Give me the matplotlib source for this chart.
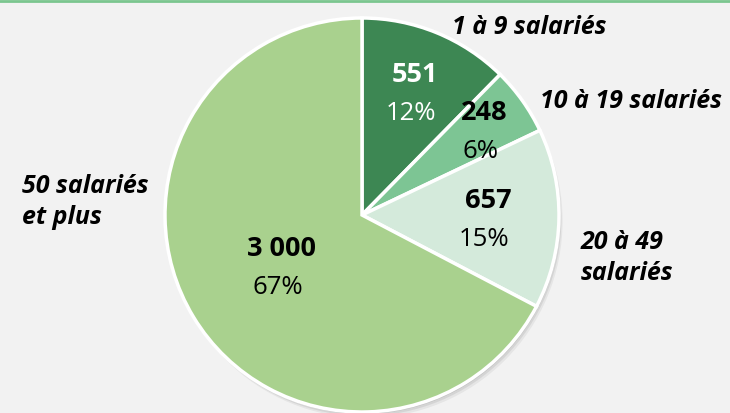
import numpy as np
import matplotlib.pyplot as plt
from matplotlib.patches import Circle

# Données
categories = ["1 à 9 salariés", "10 à 19 salariés", "20 à 49\nsalariés", "50 salariés\net plus"]
effectifs = [551, 248, 657, 3000]
valeurs_txt = ["551", "248", "657", "3 000"]
pourcentages = ["12%", "6%", "15%", "67%"]

couleurs = ["#3d8753", "#7dc594", "#d4eadb", "#a9d18e"]
couleurs_txt = ["white", "black", "black", "black"]
dist_txt = [0.68, 0.75, 0.63, 0.49]

plt.rcParams["font.family"] = ["Open Sans", "DejaVu Sans"]

W, H = 730, 413
fig = plt.figure(figsize=(W / 100, H / 100), dpi=100)
fig.patch.set_facecolor("#f2f2f2")
ax = fig.add_axes([0, 0, 1, 1])
ax.set_facecolor("#f2f2f2")

cx, cy, r = 362, H - 215, 197

# ombre légère
for k, a in [(6, 0.05), (4, 0.07), (2, 0.09)]:
    ax.add_patch(Circle((cx + k * 0.6, cy - k), r, color="black", alpha=a, lw=0, zorder=0))

wedges, _ = ax.pie(effectifs, colors=couleurs, startangle=90, counterclock=False,
                   center=(cx, cy), radius=r,
                   wedgeprops=dict(edgecolor="white", linewidth=2.5))
for w in wedges:
    w.set_zorder(2)

for w, val, pct, col, d in zip(wedges, valeurs_txt, pourcentages, couleurs_txt, dist_txt):
    ang = np.deg2rad((w.theta1 + w.theta2) / 2)
    x = cx + d * r * np.cos(ang)
    y = cy + d * r * np.sin(ang)
    ax.text(x + 2, y + 9, val, ha="center", va="baseline", fontsize=19.5,
            fontweight="bold", color=col, zorder=3)
    ax.text(x - 2, y - 29, pct, ha="center", va="baseline", fontsize=18.5,
            color=col, zorder=3)

# étiquettes des catégories (baseline de la dernière ligne)
pos_lab = [(529, H - 34, "center"), (631, H - 108, "center"),
           (581, H - 280, "left"), (22, H - 224, "left")]
for (x, y, ha), lab in zip(pos_lab, categories):
    ax.text(x, y, lab, ha=ha, va="baseline", fontsize=18, fontweight="bold",
            fontstyle="italic", color="black", linespacing=1.3)

ax.axhline(H - 0.8, color="#7bc68f", lw=2)

ax.set_xlim(0, W)
ax.set_ylim(0, H)
ax.set_aspect("equal")
ax.axis("off")

fig.savefig("out.png", dpi=100, facecolor=fig.get_facecolor())
